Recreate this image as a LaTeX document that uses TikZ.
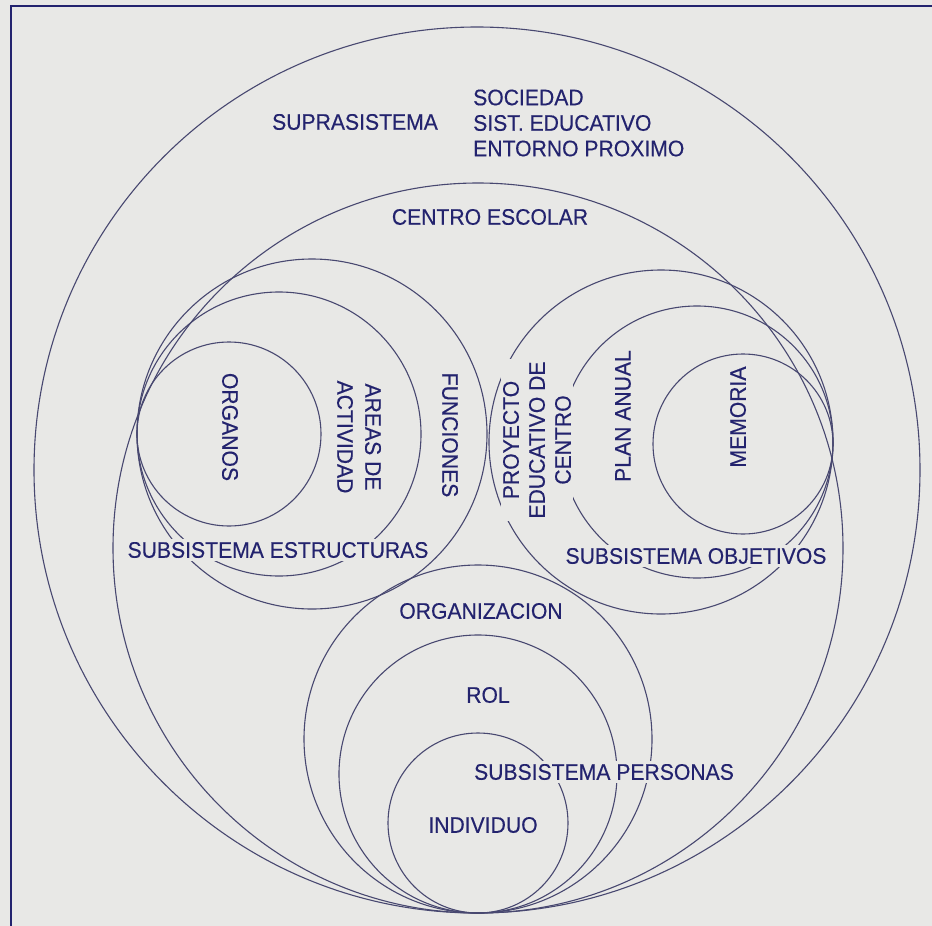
\documentclass[tikz,border=0pt]{standalone}
\usepackage{fontspec}
\setmainfont{Liberation Sans}
\newfontfamily\labelfont{Liberation Sans}[FakeBold=0.35, FakeStretch=0.94]
\definecolor{paper}{RGB}{232,232,230}
\definecolor{ink}{RGB}{35,35,110}
\definecolor{rim}{RGB}{72,72,112}
\begin{document}
\begin{tikzpicture}[x=1pt,y=-1pt,
  ring/.style={circle, draw=rim, line width=1.1pt, inner sep=0pt, minimum size=#1},
  lbl/.style={text=ink, font=\labelfont\fontsize{22.5}{26}\selectfont, inner sep=3pt, align=center},
  cut/.style={lbl, fill=paper},
]
% sheet and frame
\fill[paper] (0,0) rectangle (932,926);
\useasboundingbox (0,0) rectangle (932,926);
\draw[line width=2pt, draw=ink] (11,926) -- (11,6) -- (932,6);

% system levels
\node[ring=886pt] (supra)  at (477,470) {};
\node[ring=730pt] (centro) at (478,548) {};

% structures subsystem
\node[ring=350pt] (funciones) at (312,434) {};
\node[ring=284pt] (areas)     at (279,434) {};
\node[ring=184pt] (organos)   at (229,434) {};

% goals subsystem
\node[ring=344pt] (proyecto) at (661,442) {};
\node[ring=272pt] (plan)     at (697,442) {};
\node[ring=180pt] (memoria)  at (743,444) {};

% people subsystem
\node[ring=348pt] (organizacion) at (478,739) {};
\node[ring=278pt] (rol)          at (478,774) {};
\node[ring=180pt] (individuo)    at (478,823) {};

% labels
\node[lbl] (tsupra) at (355,122) {SUPRASISTEMA};
\node[lbl, align=left, anchor=west, font=\labelfont\fontsize{22.5}{25.5}\selectfont] (tentorno) at (470,123)
  {SOCIEDAD\\SIST. EDUCATIVO\\ENTORNO PROXIMO};
\node[lbl] (tcentro) at (490,217) {CENTRO ESCOLAR};

\node[lbl, rotate=-90] (torganos) at (230,427) {ORGANOS};
\node[lbl, rotate=-90, font=\labelfont\fontsize{22.5}{28}\selectfont] (tareas) at (359,437) {AREAS DE\\ACTIVIDAD};
\node[lbl, rotate=-90] (tfunciones) at (450,435) {FUNCIONES};

\node[cut, rotate=90, inner sep=2pt] (tproyecto) at (537,440) {PROYECTO\\EDUCATIVO DE\\CENTRO};
\node[lbl, rotate=90] (tplan) at (623,416) {PLAN ANUAL};
\node[lbl, rotate=90] (tmemoria) at (738,417) {MEMORIA};

\node[cut] (testructuras) at (278,550) {SUBSISTEMA ESTRUCTURAS};
\node[cut] (tobjetivos) at (696,556) {SUBSISTEMA OBJETIVOS};

\node[cut] (torganizacion) at (481,611) {ORGANIZACION};
\node[lbl] (trol) at (488,695) {ROL};
\node[cut] (tpersonas) at (604,772) {SUBSISTEMA PERSONAS};
\node[lbl] (tindividuo) at (483,825) {INDIVIDUO};
\end{tikzpicture}
\end{document}
